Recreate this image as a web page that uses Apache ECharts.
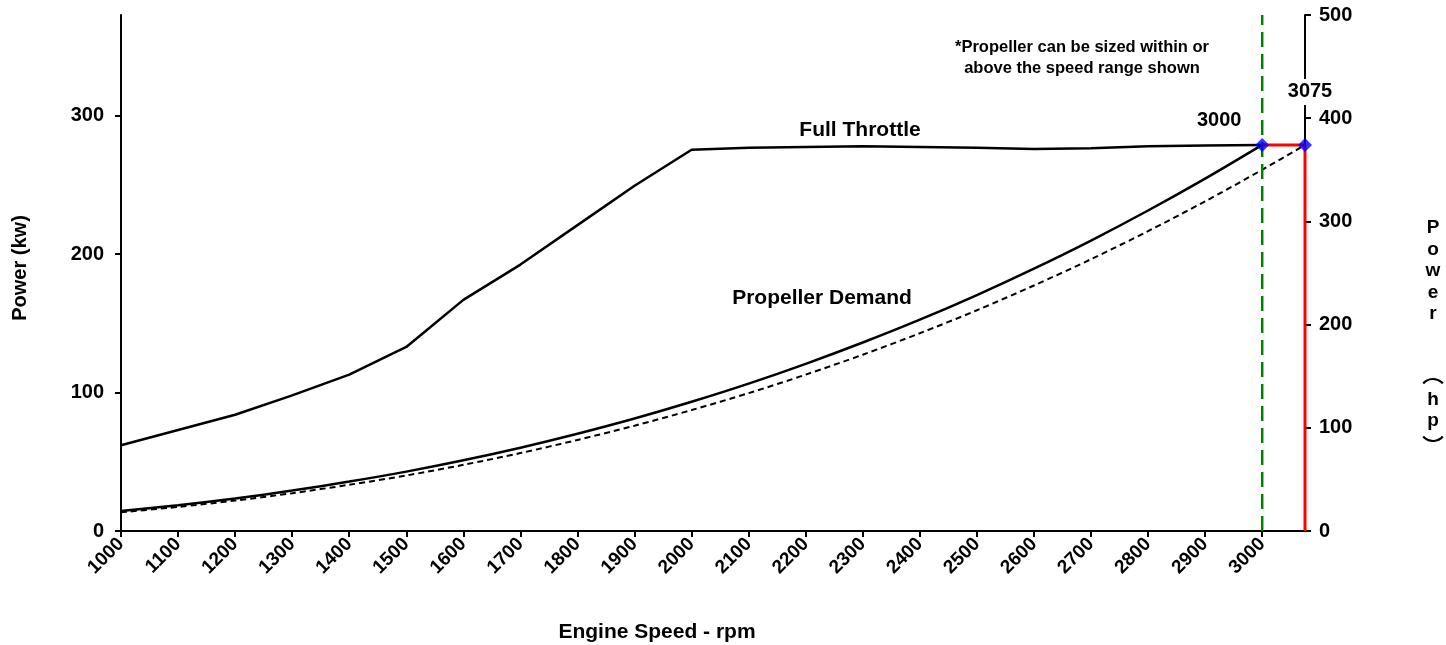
<!DOCTYPE html>
<html>
<head>
<meta charset="utf-8">
<title>Engine power vs speed</title>
<script src="https://cdn.jsdelivr.net/npm/echarts@6/dist/echarts.min.js"></script>
<style>
  html, body { margin: 0; padding: 0; background: #fff; }
  #chart { width: 1446px; height: 645px; }
</style>
</head>
<body>
<div id="chart"></div>
<script>
// engine speed (rpm)
const rpm = [1000, 1100, 1200, 1300, 1400, 1500, 1600, 1700, 1800, 1900, 2000,
             2100, 2200, 2300, 2400, 2500, 2600, 2700, 2800, 2900, 3000]
// power in kW
const fullThrottle = [62, 73, 84, 98, 113, 133, 167, 192.5, 221, 249.5, 275.5,
                      277, 277.5, 278, 277.5, 277, 276, 276.5, 278, 278.5, 279]
const propDemand = [14.4, 18.6, 23.5, 29.2, 35.7, 42.9, 51.1, 60.2, 70.3, 81.3, 93.4,
                    106.5, 120.8, 136.2, 152.7, 170.5, 189.6, 209.9, 231.6, 254.6, 279]
// dashed curve, sized to 3075 rpm
const propRpm = rpm.concat([3075])
const propDemand3075 = [13.5, 17.4, 22.0, 27.3, 33.4, 40.1, 47.8, 56.3, 65.8, 76.1, 87.4,
                        99.6, 113.0, 127.4, 142.9, 159.5, 177.4, 196.4, 216.7, 238.2, 261.0, 279]
const ratedPoints = [[3000, 279], [3075, 279]]
const xTicks = rpm
const kwTicks = [0, 100, 200, 300]
const hpTicks = [0, 100, 200, 300, 400, 500]
const kwMax = 500 * 0.7457   // left axis top = 500 hp

const font = 'Liberation Sans, Arial, sans-serif'
const black = '#000'

const chart = echarts.init(document.getElementById('chart'))

const txt = (id, x, y, text, size, extra) => ({
  id, type: 'text', x, y, z: 10,
  style: Object.assign({ text, font: 'bold ' + size + 'px ' + font, fill: black, align: 'center', verticalAlign: 'middle' }, extra || {}),
})

// vertical "Power (hp)" title, one glyph per line; brackets drawn as sideways arcs
const hpLetters = [['P', 228], ['o', 250], ['w', 271], ['e', 293], ['r', 314], ['h', 400], ['p', 421]]
const arc = (id, cy, mid) => ({
  id, type: 'arc', z: 10,
  shape: { cx: 1433, cy, r: 13, startAngle: mid - 0.85, endAngle: mid + 0.85 },
  style: { stroke: black, lineWidth: 2.2, fill: null },
})

chart.setOption({
  animation: false,
  textStyle: { fontFamily: font },
  grid: { left: 121, right: 141, top: 15, bottom: 114 },
  xAxis: {
    type: 'value', min: 1000, max: 3075, interval: 100,
    splitLine: { show: false },
    axisLine: { lineStyle: { color: black, width: 2 } },
    axisTick: { length: 6, lineStyle: { color: black, width: 2 }, customValues: xTicks },
    axisLabel: { rotate: 45, color: black, fontSize: 19, fontWeight: 'bold', margin: 10, customValues: xTicks, formatter: v => String(v) },
  },
  yAxis: [
    {
      type: 'value', min: 0, max: kwMax, position: 'left',
      splitLine: { show: false },
      axisLine: { show: true, lineStyle: { color: black, width: 2 } },
      axisTick: { show: true, length: 6, lineStyle: { color: black, width: 2 }, customValues: kwTicks },
      axisLabel: { color: black, fontSize: 20, fontWeight: 'bold', margin: 17, customValues: kwTicks },
    },
    {
      type: 'value', min: 0, max: 500, interval: 100, position: 'right',
      splitLine: { show: false },
      axisLine: { show: true, lineStyle: { color: black, width: 2 } },
      axisTick: { show: true, length: 6, lineStyle: { color: black, width: 2 }, customValues: hpTicks },
      axisLabel: { color: black, fontSize: 20, fontWeight: 'bold', margin: 14, customValues: hpTicks },
    },
  ],
  series: [
    {
      name: 'Full Throttle', type: 'line', symbol: 'none',
      data: rpm.map((r, i) => [r, fullThrottle[i]]),
      lineStyle: { color: black, width: 2.5 },
    },
    {
      name: 'Propeller Demand', type: 'line', symbol: 'none', smooth: 0.3,
      data: rpm.map((r, i) => [r, propDemand[i]]),
      lineStyle: { color: black, width: 2.5 },
    },
    {
      name: 'Propeller 3075', type: 'line', symbol: 'none', smooth: 0.3,
      data: propRpm.map((r, i) => [r, propDemand3075[i]]),
      lineStyle: { color: black, width: 2, type: [6, 4] },
    },
    {
      // 3000 rpm marker line
      type: 'line', symbol: 'none',
      data: [[3000, 0], [3000, kwMax]],
      lineStyle: { color: '#008000', width: 2.5, type: [15, 7] },
    },
    {
      // red limit line
      type: 'line', symbol: 'none',
      data: [[3000, 279], [3075, 279], [3075, 0]],
      lineStyle: { color: '#ff0000', width: 3 },
    },
    {
      type: 'scatter', symbol: 'diamond', symbolSize: 14, z: 5,
      itemStyle: { color: '#0000ff' },
      data: ratedPoints,
    },
  ],
  graphic: [
    txt('full', 860, 130, 'Full Throttle', 21),
    txt('prop', 822, 298, 'Propeller Demand', 21),
    txt('note', 1082, 58, '*Propeller can be sized within or\nabove the speed range shown', 16.5, { lineHeight: 21 }),
    txt('xname', 657, 632, 'Engine Speed - rpm', 21),
    Object.assign(txt('kwname', 20, 268, 'Power (kw)', 20), { rotation: Math.PI / 2 }),
    arc('brL', 392, Math.PI * 1.5),
    arc('brR', 428, Math.PI * 0.5),
  ].concat(hpLetters.map((c, i) => txt('hp' + i, 1433, c[1], c[0], 19))),
})

// rpm labels above the two rated points, placed from the data
const p0 = chart.convertToPixel({ gridIndex: 0 }, ratedPoints[0])
const p1 = chart.convertToPixel({ gridIndex: 0 }, ratedPoints[1])
chart.setOption({
  graphic: [
    txt('r3000', p0[0] - 43, p0[1] - 24, String(ratedPoints[0][0]), 20),
    txt('r3075', p1[0] + 5, p1[1] - 53, String(ratedPoints[1][0]), 20, { backgroundColor: '#fff', padding: [3, 2] }),
  ],
})
</script>
</body>
</html>
